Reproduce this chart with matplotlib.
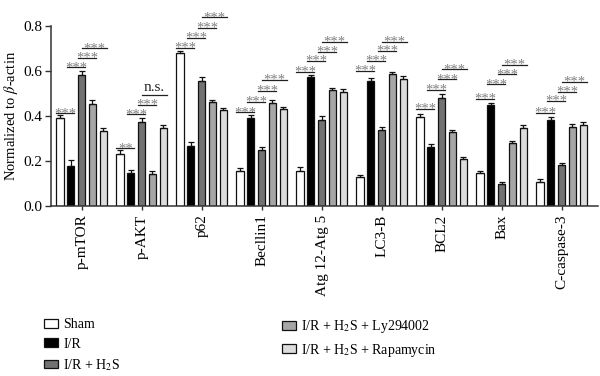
import matplotlib
matplotlib.use("Agg")
import matplotlib.pyplot as plt
from matplotlib.patches import Patch
import numpy as np

plt.rcParams["font.family"] = ["Liberation Serif", "DejaVu Serif"]
plt.rcParams["mathtext.fontset"] = "stix"

# ---- data ----
groups = ["p-mTOR", "p-AKT", "p62", "Becllin1", "Atg 12-Atg 5",
          "LC3-B", "BCL2", "Bax", "C-caspase-3"]
series_names = ["Sham", "I/R", "I/R + H$_2$S",
                "I/R + H$_2$S + Ly294002", "I/R + H$_2$S + Rapamycin"]

sham = [0.390, 0.230, 0.679, 0.157, 0.156, 0.127, 0.397, 0.148, 0.108]
ir = [0.179, 0.145, 0.267, 0.390, 0.572, 0.557, 0.261, 0.447, 0.382]
ir_h2s = [0.581, 0.373, 0.556, 0.249, 0.382, 0.338, 0.481, 0.096, 0.181]
ir_h2s_ly = [0.452, 0.141, 0.461, 0.456, 0.516, 0.587, 0.329, 0.281, 0.350]
ir_h2s_rapa = [0.333, 0.345, 0.427, 0.430, 0.507, 0.564, 0.209, 0.348, 0.360]

sham_err = [0.016, 0.018, 0.010, 0.010, 0.016, 0.010, 0.012, 0.008, 0.013]
ir_err = [0.025, 0.013, 0.016, 0.015, 0.012, 0.012, 0.015, 0.012, 0.012]
ir_h2s_err = [0.019, 0.020, 0.015, 0.015, 0.016, 0.015, 0.015, 0.010, 0.009]
ir_h2s_ly_err = [0.018, 0.015, 0.010, 0.015, 0.008, 0.008, 0.008, 0.008, 0.013]
ir_h2s_rapa_err = [0.012, 0.015, 0.007, 0.010, 0.012, 0.012, 0.010, 0.012, 0.013]

# significance: comparisons (bar a, bar b), labels per group
sig_pairs = [(0, 1), (1, 2), (2, 3), (2, 4)]
sig_labels = [["***"] * 4, ["**", "***", "***", "n.s."]] + [["***"] * 4] * 7
sig_heights = [
    [0.412, 0.616, 0.659, 0.700],
    [0.256, 0.407, 0.450, 0.493],
    [0.703, 0.748, 0.792, 0.838],
    [0.416, 0.464, 0.512, 0.560],
    [0.597, 0.644, 0.686, 0.729],
    [0.601, 0.646, 0.689, 0.730],
    [0.431, 0.516, 0.563, 0.608],
    [0.476, 0.541, 0.585, 0.627],
    [0.415, 0.467, 0.508, 0.553],
]

values = [sham, ir, ir_h2s, ir_h2s_ly, ir_h2s_rapa]
errors = [sham_err, ir_err, ir_h2s_err, ir_h2s_ly_err, ir_h2s_rapa_err]
colors = ["#ffffff", "#000000", "#727272", "#a6a6a6", "#dcdcdc"]

fig = plt.figure(figsize=(6.0, 3.76), dpi=100)
ax = fig.add_axes([0.085, 0.452, 0.912, 0.479])

x = np.arange(len(groups))
pitch, width, shift = 0.18, 0.12, -0.01
offsets = [(k - 2) * pitch + shift for k in range(5)]

for k in range(5):
    xs = x + offsets[k]
    ax.bar(xs, values[k], width=width, color=colors[k], edgecolor="#111111",
           linewidth=0.9, zorder=2)
    ax.errorbar(xs, values[k], yerr=[np.zeros(len(groups)), errors[k]],
                fmt="none", ecolor="#111111", elinewidth=0.9, capsize=2.2,
                capthick=0.9, zorder=3)

# significance brackets
for i in range(len(groups)):
    for j, (a, b) in enumerate(sig_pairs):
        h = sig_heights[i][j]
        x0 = x[i] + offsets[a] - (0 if j == 3 else width / 2)
        x1 = x[i] + offsets[b] + width / 2
        xm = (x0 + x1) / 2
        ax.plot([x0, x1], [h, h], color="#222222", lw=0.9, clip_on=False,
                zorder=4)
        lab = sig_labels[i][j]
        if lab == "n.s.":
            ax.annotate(lab, xy=(xm, h), xytext=(0, 0.5),
                        textcoords="offset points", ha="center", va="bottom",
                        fontsize=11, color="#222222", annotation_clip=False)
        else:
            ax.annotate(lab, xy=(xm, h), xytext=(0, -2.8),
                        textcoords="offset points", ha="center",
                        va="baseline", fontsize=10.5, color="#808080",
                        annotation_clip=False)

ax.set_xlim(-0.52, 8.6)
ax.set_ylim(0, 0.8)
ax.set_yticks([0.0, 0.2, 0.4, 0.6, 0.8])
ax.set_yticklabels(["0.0", "0.2", "0.4", "0.6", "0.8"])
ax.set_xticks(x)
ax.set_xticklabels(groups, rotation=90)
ax.tick_params(axis="both", labelsize=11, direction="out", color="#333333")
ax.tick_params(axis="y", length=4, width=1.0, pad=2)
ax.tick_params(axis="x", length=3, width=1.0, pad=3)
ax.set_ylabel(r"Normalized to $\beta$-actin", fontsize=10.5, labelpad=3)

for s in ["top", "right"]:
    ax.spines[s].set_visible(False)
for s in ["left", "bottom"]:
    ax.spines[s].set_linewidth(1.1)
    ax.spines[s].set_color("#333333")

handles = [Patch(facecolor=c, edgecolor="#111111", linewidth=0.9)
           for c in colors]
leg_kw = dict(frameon=False, fontsize=10, handlelength=1.0,
              handleheight=0.6, handletextpad=0.4, labelspacing=0.45,
              borderpad=0, borderaxespad=0, loc="upper left")
fig.legend(handles[:3], series_names[:3], bbox_to_anchor=(0.073, 0.153),
           **leg_kw)
fig.legend(handles[3:], series_names[3:], bbox_to_anchor=(0.470, 0.153),
           **leg_kw)

fig.savefig("out.png", dpi=100)
